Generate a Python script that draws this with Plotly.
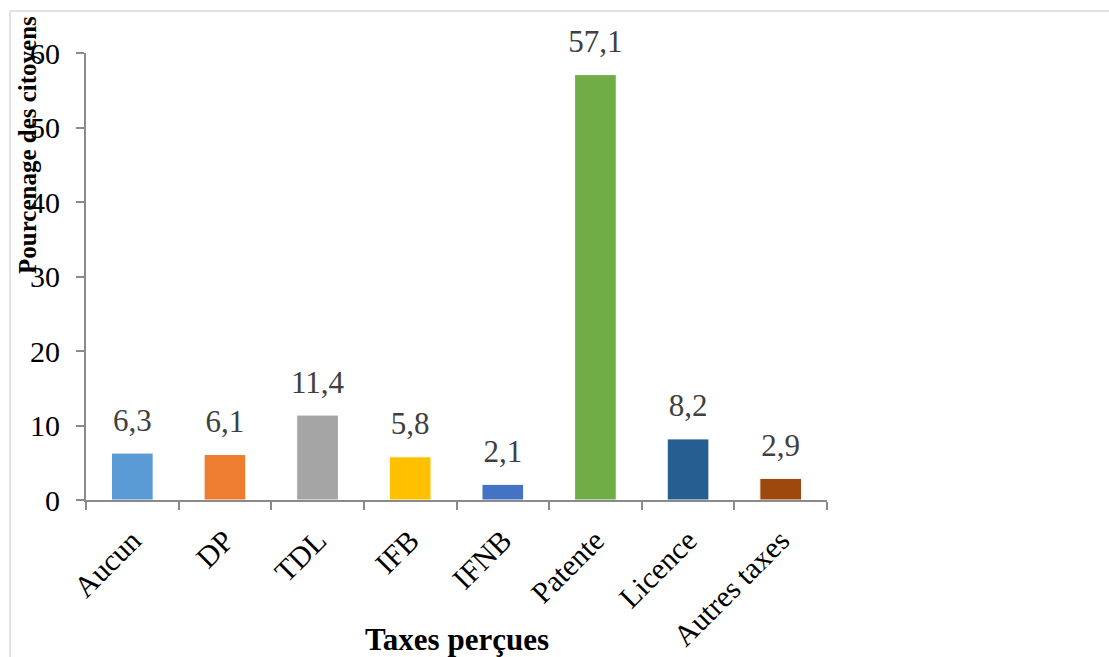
import plotly.graph_objects as go

categories = ["Aucun", "DP", "TDL", "IFB", "IFNB", "Patente", "Licence", "Autres taxes"]
values = [6.3, 6.1, 11.4, 5.8, 2.1, 57.1, 8.2, 2.9]
colors = ["#5b9bd5", "#ed7d31", "#a5a5a5", "#ffc000", "#4472c4", "#70ad47", "#255e91", "#9e480e"]
y_ticks = [0, 10, 20, 30, 40, 50, 60]

FONT = "Liberation Serif, Times New Roman, serif"

fig = go.Figure()
fig.add_trace(go.Bar(
    x=categories, y=values,
    marker=dict(color=colors, line=dict(color="white", width=1)),
    width=0.45,
    hoverinfo="x+y",
))
# value labels placed above bars
fig.add_trace(go.Scatter(
    x=categories, y=values,
    mode="markers+text",
    marker=dict(size=22, opacity=0),
    text=[f"{v:.1f}".replace(".", ",") for v in values],
    textposition="top center",
    textfont=dict(family=FONT, size=31, color="#404040"),
    hoverinfo="skip",
    cliponaxis=False,
))

W, H = 1109, 657
L, R, T, B = 86, 282, 53, 157
pw, ph = W - L - R, H - T - B

def px_x(px):
    return (px - L) / pw

def px_y(py):
    return (H - B - py) / ph

fig.update_layout(
    width=W, height=H,
    margin=dict(l=L, r=R, t=T, b=B, pad=0, autoexpand=False),
    paper_bgcolor="white", plot_bgcolor="white",
    showlegend=False,
    font=dict(family=FONT, color="black"),
    xaxis=dict(
        type="category",
        range=[-0.5, len(categories) - 0.5],
        automargin=False,
        showline=True, linecolor="#8a8a8a", linewidth=2,
        ticks="outside", ticklen=8, tickwidth=2, tickcolor="#8a8a8a",
        tickson="boundaries",
        tickangle=-45,
        tickfont=dict(family=FONT, size=30, color="black"),
        showgrid=False, zeroline=False,
        ticklabelstandoff=9,
    ),
    yaxis=dict(
        range=[0, 60],
        automargin=False,
        tickvals=y_ticks,
        showline=True, linecolor="#8a8a8a", linewidth=2,
        ticks="outside", ticklen=8, tickwidth=2, tickcolor="#8a8a8a",
        tickfont=dict(family=FONT, size=30, color="black"),
        showgrid=False, zeroline=False,
        ticklabelstandoff=10,
    ),
    annotations=[
        dict(text="<b>Pourcenage des citoyens</b>", xref="paper", yref="paper",
             x=px_x(27), y=px_y(145), textangle=-90, showarrow=False,
             xanchor="center", yanchor="middle",
             font=dict(family=FONT, size=25, color="black")),
        dict(text="<b>Taxes perçues</b>", xref="paper", yref="paper",
             x=px_x(457), y=px_y(639), showarrow=False,
             xanchor="center", yanchor="middle",
             font=dict(family=FONT, size=31, color="black")),
    ],
    shapes=[
        dict(type="line", xref="paper", yref="paper",
             x0=px_x(10), x1=px_x(1200), y0=px_y(11), y1=px_y(11),
             line=dict(color="#d9d9d9", width=1.5)),
        dict(type="line", xref="paper", yref="paper",
             x0=px_x(10), x1=px_x(10), y0=px_y(11), y1=px_y(700),
             line=dict(color="#d9d9d9", width=1.5)),
    ],
)

fig.write_html("out.html")
